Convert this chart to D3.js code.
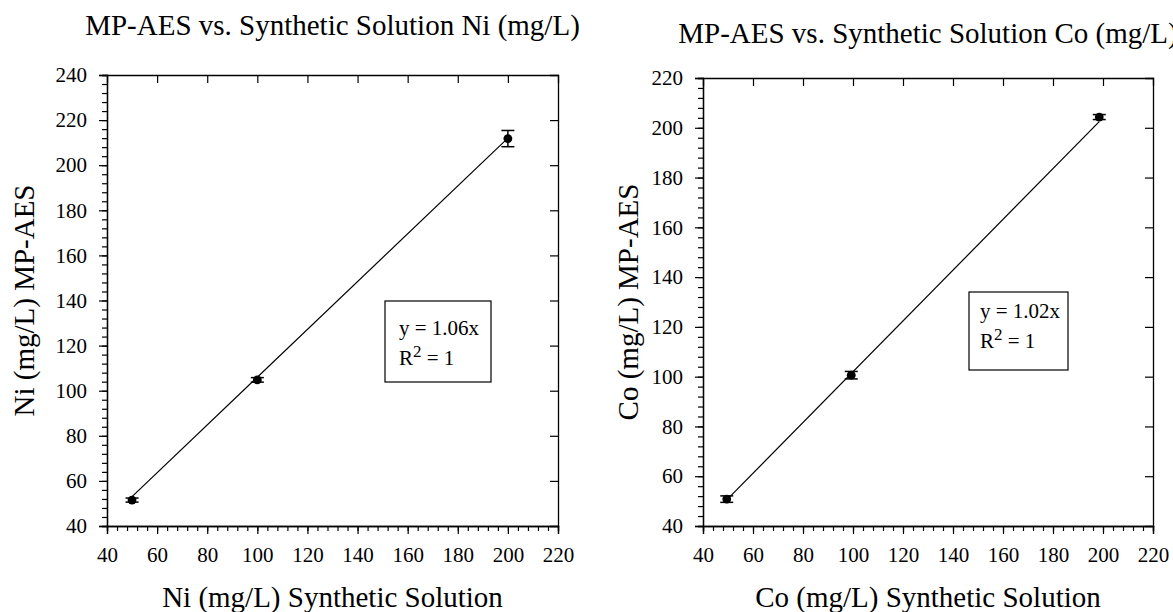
<!DOCTYPE html>
<html>
<head>
<meta charset="utf-8">
<script src="https://cdn.jsdelivr.net/npm/d3@7"></script>
<style>
  body { margin: 0; background: #fff; }
  svg text { font-family: "Times New Roman", "Liberation Serif", serif; }
</style>
</head>
<body>
<svg id="chart" width="1173" height="612"></svg>
<script>
// Ni panel
var niX = [50, 100, 200];
var niY = [51.5, 104.8, 211.8];
var niErr = [0.9, 1.0, 3.6];
var niSlope = 1.06;
var niTicksX = [40, 60, 80, 100, 120, 140, 160, 180, 200, 220];
var niTicksY = [40, 60, 80, 100, 120, 140, 160, 180, 200, 220, 240];

// Co panel
var coX = [49.5, 99.3, 198.5];
var coY = [50.8, 100.6, 204.3];
var coErr = [1.3, 1.5, 1.0];
var coSlope = 1.02;
var coTicksX = [40, 60, 80, 100, 120, 140, 160, 180, 200, 220];
var coTicksY = [40, 60, 80, 100, 120, 140, 160, 180, 200, 220];

var FONT = '"Times New Roman", "Liberation Serif", serif';
var svg = d3.select('#chart');

function drawPanel(opt) {
	var g = svg.append('g');
	var x = d3.scaleLinear().domain([opt.xTicks[0], opt.xTicks[opt.xTicks.length - 1]]).range([opt.left, opt.right]);
	var y = d3.scaleLinear().domain([opt.yTicks[0], opt.yTicks[opt.yTicks.length - 1]]).range([opt.bottom, opt.top]);

	var minorX = d3.range(x.domain()[0], x.domain()[1] + 0.1, 4);
	var minorY = d3.range(y.domain()[0], y.domain()[1] + 0.1, 4);

	// ===========================================================================================
	// axes: labelled bottom/left with minor ticks, bare top/right with inward major ticks
	g.append('g')
		.attr('transform', 'translate(0,' + opt.bottom + ')')
		.call(d3.axisBottom(x).tickValues(minorX).tickSize(5).tickFormat(''));
	g.append('g')
		.attr('transform', 'translate(0,' + opt.bottom + ')')
		.call(d3.axisBottom(x).tickValues(opt.xTicks).tickSize(8).tickPadding(13).tickFormat(d3.format('d')));
	g.append('g')
		.attr('transform', 'translate(' + opt.left + ',0)')
		.call(d3.axisLeft(y).tickValues(minorY).tickSize(5).tickFormat(''));
	g.append('g')
		.attr('transform', 'translate(' + opt.left + ',0)')
		.call(d3.axisLeft(y).tickValues(opt.yTicks).tickSize(8).tickPadding(12).tickFormat(d3.format('d')));
	g.append('g')
		.attr('transform', 'translate(0,' + opt.top + ')')
		.call(d3.axisBottom(x).tickValues(opt.xTicks.slice(1, -1)).tickSize(8).tickFormat(''));
	g.append('g')
		.attr('transform', 'translate(' + opt.right + ',0)')
		.call(d3.axisLeft(y).tickValues(opt.yTicks.slice(1, -1)).tickSize(8).tickFormat(''));

	g.selectAll('.domain').attr('stroke', '#000').attr('stroke-width', 1.3);
	g.selectAll('.tick line').attr('stroke', '#000').attr('stroke-width', 1.2);
	g.selectAll('.tick text').attr('fill', '#000').attr('font-family', FONT).attr('font-size', 21);

	// ===========================================================================================
	// fit line
	var x0 = opt.xs[0], x1 = opt.xs[opt.xs.length - 1];
	g.append('line')
		.attr('x1', x(x0)).attr('y1', y(opt.slope * x0))
		.attr('x2', x(x1)).attr('y2', y(opt.slope * x1))
		.attr('stroke', '#000').attr('stroke-width', 1.2);

	var pts = opt.xs.map(function(d, i) { return {x: d, y: opt.ys[i], e: opt.errs[i]}; });

	// error bars
	var eb = g.selectAll('.err').data(pts).enter().append('g').attr('class', 'err')
		.attr('stroke', '#000').attr('stroke-width', 1.5);
	eb.append('line')
		.attr('x1', function(d) { return x(d.x); }).attr('x2', function(d) { return x(d.x); })
		.attr('y1', function(d) { return y(d.y - d.e); }).attr('y2', function(d) { return y(d.y + d.e); });
	eb.append('line')
		.attr('x1', function(d) { return x(d.x) - 6.5; }).attr('x2', function(d) { return x(d.x) + 6.5; })
		.attr('y1', function(d) { return y(d.y + d.e); }).attr('y2', function(d) { return y(d.y + d.e); });
	eb.append('line')
		.attr('x1', function(d) { return x(d.x) - 6.5; }).attr('x2', function(d) { return x(d.x) + 6.5; })
		.attr('y1', function(d) { return y(d.y - d.e); }).attr('y2', function(d) { return y(d.y - d.e); });

	g.selectAll('.pt').data(pts).enter().append('circle')
		.attr('class', 'pt')
		.attr('cx', function(d) { return x(d.x); })
		.attr('cy', function(d) { return y(d.y); })
		.attr('r', 4.4)
		.attr('fill', '#000');

	// ===========================================================================================
	// equation box
	var b = opt.box;
	g.append('rect')
		.attr('x', b.x).attr('y', b.y).attr('width', b.w).attr('height', b.h)
		.attr('fill', '#fff').attr('stroke', '#000').attr('stroke-width', 1.2);
	g.append('text')
		.attr('x', b.x + b.pad).attr('y', b.y + b.dy[0])
		.attr('font-family', FONT).attr('font-size', 21)
		.text(opt.eq);
	var r2 = g.append('text')
		.attr('x', b.x + b.pad).attr('y', b.y + b.dy[1])
		.attr('font-family', FONT).attr('font-size', 21);
	r2.append('tspan').text('R');
	r2.append('tspan').attr('dy', -8).attr('font-size', 17).text('2');
	r2.append('tspan').attr('dy', 8).text(' = 1');

	// titles
	g.append('text')
		.attr('x', (opt.left + opt.right) / 2).attr('y', opt.titleY)
		.attr('text-anchor', 'middle')
		.attr('font-family', FONT).attr('font-size', 29)
		.text(opt.title);
	g.append('text')
		.attr('x', (opt.left + opt.right) / 2).attr('y', 607)
		.attr('text-anchor', 'middle')
		.attr('font-family', FONT).attr('font-size', 29)
		.text(opt.xLabel);
	g.append('text')
		.attr('transform', 'translate(' + opt.yLabelX + ',' + (opt.top + opt.bottom) / 2 + ') rotate(-90)')
		.attr('text-anchor', 'middle')
		.attr('font-family', FONT).attr('font-size', 29)
		.text(opt.yLabel);
}

drawPanel({
	left: 107, right: 558, top: 75, bottom: 526,
	xTicks: niTicksX, yTicks: niTicksY,
	xs: niX, ys: niY, errs: niErr, slope: niSlope,
	box: {x: 385, y: 301, w: 106, h: 81, pad: 14, dy: [34, 64]},
	eq: 'y = 1.06x',
	title: 'MP-AES vs. Synthetic Solution Ni (mg/L)', titleY: 35,
	xLabel: 'Ni (mg/L) Synthetic Solution',
	yLabel: 'Ni (mg/L) MP-AES', yLabelX: 34
});

drawPanel({
	left: 703, right: 1153, top: 78, bottom: 526,
	xTicks: coTicksX, yTicks: coTicksY,
	xs: coX, ys: coY, errs: coErr, slope: coSlope,
	box: {x: 969, y: 292, w: 99, h: 78, pad: 11, dy: [26, 56]},
	eq: 'y = 1.02x',
	title: 'MP-AES vs. Synthetic Solution Co (mg/L)', titleY: 43,
	xLabel: 'Co (mg/L) Synthetic Solution',
	yLabel: 'Co (mg/L) MP-AES', yLabelX: 638
});
</script>
</body>
</html>
